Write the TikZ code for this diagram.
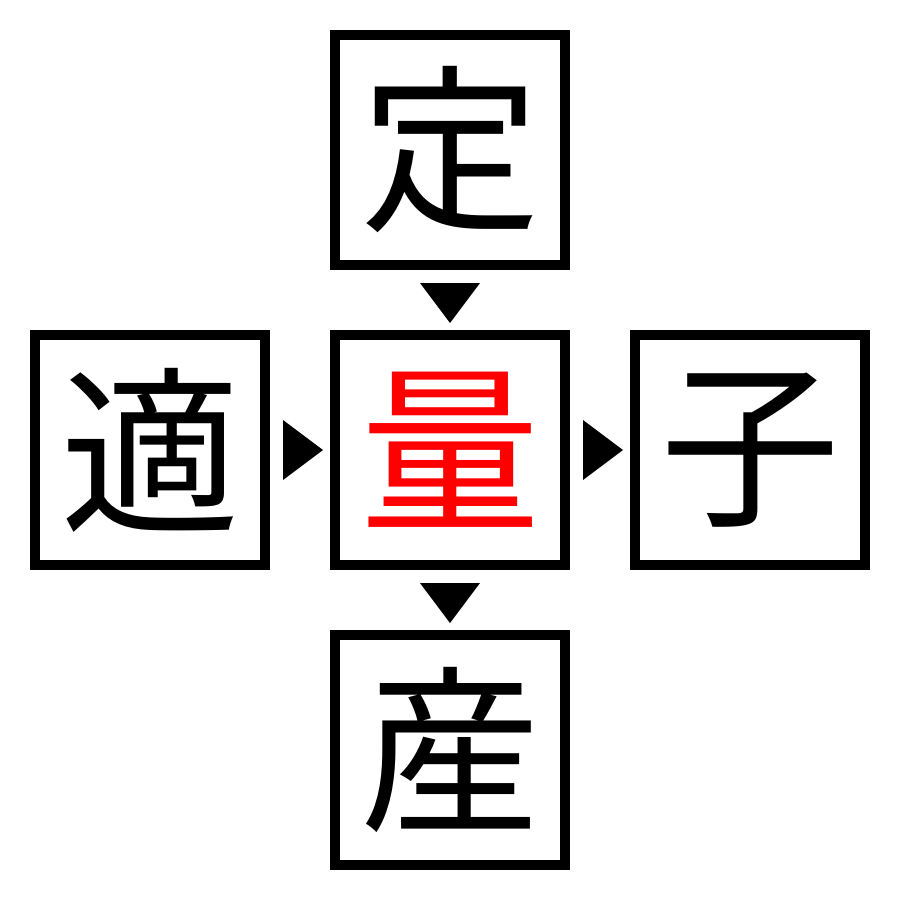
\documentclass[tikz,border=0pt]{standalone}
\usepackage{fontspec}
\newfontfamily\cjk{Noto Sans CJK JP}
\usetikzlibrary{calc}
\begin{document}
\begin{tikzpicture}[x=1pt,y=-1pt,
  box/.style={draw=black,line width=10pt,minimum size=230pt,inner sep=0pt,font=\cjk\fontsize{180}{180}\selectfont},
  tri/.style={fill=black}]
\useasboundingbox (0,0) rectangle (900,900);
\node[box] (top) at (450,150) {定};
\node[box] (left) at (150,450) {適};
\node[box,text=red] (mid) at (450,450) {量};
\node[box] (right) at (750,450) {子};
\node[box] (bot) at (450,750) {産};
\fill[tri] ($(top.south)+(-30,13)$) -- ($(top.south)+(30,13)$) -- ($(mid.north)+(0,-7)$) -- cycle;
\fill[tri] ($(mid.south)+(-30,13)$) -- ($(mid.south)+(30,13)$) -- ($(bot.north)+(0,-7)$) -- cycle;
\fill[tri] ($(left.east)+(13,-30)$) -- ($(left.east)+(13,30)$) -- ($(mid.west)+(-7,0)$) -- cycle;
\fill[tri] ($(mid.east)+(13,-30)$) -- ($(mid.east)+(13,30)$) -- ($(right.west)+(-7,0)$) -- cycle;
\end{tikzpicture}
\end{document}
